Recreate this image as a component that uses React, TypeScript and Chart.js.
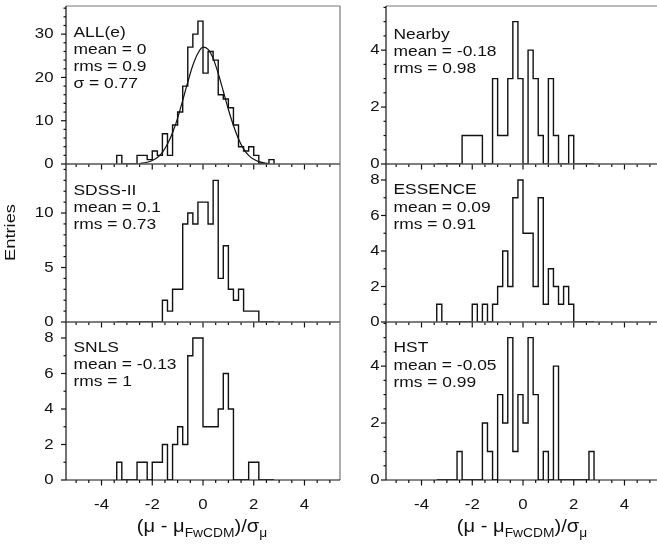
import React, { useEffect, useRef } from "react";
import { Chart, registerables } from "chart.js";

Chart.register(...registerables);

// ---------- data ----------
// Histogram bins of width 0.2, the first listed bin starts at -3.4 (last ends at 2.8)
const BIN_START = -3.4;
const BIN_WIDTH = 0.2;
const X_MIN = -5.4;
const X_MAX = 5.4;

const allCounts = [2, 0, 0, 0, 2, 2, 1, 3, 2, 7, 2, 9, 12, 18, 27, 30, 33, 21, 26, 24, 16, 15, 13, 9, 4, 3, 4, 2, 0, 0, 1];
const sdssCounts = [0, 0, 0, 0, 0, 0, 0, 0, 0, 2, 1, 3, 3, 9, 10, 9, 11, 11, 9, 13, 4, 7, 3, 2, 3, 1, 1, 1, 0, 0, 0];
const snlsCounts = [1, 0, 0, 0, 1, 1, 0, 1, 1, 2, 0, 2, 3, 2, 7, 8, 8, 3, 3, 3, 4, 6, 4, 0, 0, 0, 1, 1, 0, 0, 0];
const nearbyCounts = [0, 0, 0, 0, 0, 1, 1, 1, 1, 0, 0, 3, 1, 1, 3, 5, 3, 0, 4, 3, 1, 0, 3, 1, 0, 0, 1, 0, 0, 0, 0];
const essenceCounts = [1, 0, 0, 0, 0, 0, 0, 1, 0, 1, 0, 1, 2, 4, 2, 7, 8, 5, 5, 2, 7, 1, 3, 2, 1, 2, 1, 0, 0, 0, 0];
const hstCounts = [0, 0, 0, 0, 1, 0, 0, 0, 0, 2, 1, 0, 3, 2, 5, 1, 3, 2, 5, 3, 0, 1, 0, 4, 0, 0, 0, 0, 0, 0, 1];

// Gaussian fit curve on ALL(e)
const fitX = [-2.5, -2.2, -2.0, -1.8, -1.6, -1.4, -1.2, -1.0, -0.8, -0.6, -0.4, -0.2, 0, 0.2, 0.4, 0.6, 0.8, 1.0, 1.2, 1.4, 1.6, 1.8, 2.0, 2.2, 2.4, 2.6];
const fitY = [0.1, 0.4, 0.8, 1.5, 2.7, 4.6, 7.2, 10.6, 14.7, 18.9, 22.8, 25.6, 27.0, 26.5, 24.4, 20.9, 16.8, 12.6, 8.9, 5.8, 3.5, 2.0, 1.1, 0.55, 0.26, 0.1];

const xTickLabels = [-4, -2, 0, 2, 4];
const allYTicks = [0, 10, 20, 30];
const sdssYTicks = [0, 5, 10];
const snlsYTicks = [0, 2, 4, 6, 8];
const nearbyYTicks = [0, 2, 4];
const essenceYTicks = [0, 2, 4, 6, 8];
const hstYTicks = [0, 2, 4];

const allStats = ["ALL(e)", "mean = 0", "rms = 0.9", "σ = 0.77"];
const sdssStats = ["SDSS-II", "mean = 0.1", "rms = 0.73"];
const snlsStats = ["SNLS", "mean = -0.13", "rms = 1"];
const nearbyStats = ["Nearby", "mean = -0.18", "rms = 0.98"];
const essenceStats = ["ESSENCE", "mean = 0.09", "rms = 0.91"];
const hstStats = ["HST", "mean = -0.05", "rms = 0.99"];

const yAxisTitle = "Entries";

// ---------- layout / style ----------
const COLS = [
  { canvasLeft: 0, width: 345, axisLeft: 66, labelGap: 12.5, titleX: 201.5 },
  { canvasLeft: 345, width: 320, axisLeft: 41, labelGap: 6.5, titleX: 521.5 },
];
const ROWS = [
  { top: 6, bottom: 164 },
  { top: 164, bottom: 322 },
  { top: 322, bottom: 480 },
];
const PAD_TOP = 10;
const FONT = '"Liberation Sans", Arial, Helvetica, sans-serif';
const SX = 1.2;

type PanelCfg = {
  counts: number[];
  lines: string[];
  yTicks: number[];
  yMax: number;
  yMinor: number;
  col: number;
  row: number;
  fit?: boolean;
  yTitle?: boolean;
  textDy: number;
};

const PANELS: PanelCfg[] = [
  { counts: allCounts, lines: allStats, yTicks: allYTicks, yMax: 36.5, yMinor: 2, col: 0, row: 0, fit: true, textDy: 30.7 },
  { counts: sdssCounts, lines: sdssStats, yTicks: sdssYTicks, yMax: 14.5, yMinor: 1, col: 0, row: 1, textDy: 31, yTitle: true },
  { counts: snlsCounts, lines: snlsStats, yTicks: snlsYTicks, yMax: 8.9, yMinor: 1, col: 0, row: 2, textDy: 29.5 },
  { counts: nearbyCounts, lines: nearbyStats, yTicks: nearbyYTicks, yMax: 5.55, yMinor: 0.5, col: 1, row: 0, textDy: 33 },
  { counts: essenceCounts, lines: essenceStats, yTicks: essenceYTicks, yMax: 8.9, yMinor: 1, col: 1, row: 1, textDy: 30.3 },
  { counts: hstCounts, lines: hstStats, yTicks: hstYTicks, yMax: 5.55, yMinor: 0.5, col: 1, row: 2, textDy: 30.3 },
];

function histPoints(counts: number[]) {
  const pts = [{ x: BIN_START, y: 0 }];
  counts.forEach((c, i) => pts.push({ x: BIN_START + i * BIN_WIDTH, y: c }));
  pts.push({ x: BIN_START + counts.length * BIN_WIDTH, y: 0 });
  return pts;
}

function drawStretched(ctx: CanvasRenderingContext2D, text: string, x: number, y: number, align: CanvasTextAlign, rot = 0, sx = SX) {
  ctx.save();
  ctx.translate(x, y);
  if (rot) ctx.rotate(rot);
  ctx.scale(sx, 1);
  ctx.textAlign = align;
  ctx.fillText(text, 0, 0);
  ctx.restore();
}

function line(ctx: CanvasRenderingContext2D, x1: number, y1: number, x2: number, y2: number) {
  ctx.beginPath();
  ctx.moveTo(x1, y1);
  ctx.lineTo(x2, y2);
  ctx.stroke();
}

function makeFramePlugin(p: PanelCfg) {
  return {
    id: "frame",
    afterDraw(chart: any) {
      const { ctx, chartArea, scales } = chart;
      const { left, right, top, bottom } = chartArea;
      const xs = scales.x;
      const ys = scales.y;
      const col = COLS[p.col];
      ctx.save();
      // grey frame top/right
      ctx.strokeStyle = "#777";
      ctx.lineWidth = 1.2;
      line(ctx, left, top, right, top);
      line(ctx, right, top, right, bottom);
      // axes
      ctx.strokeStyle = "#111";
      ctx.lineWidth = 1.2;
      line(ctx, left, bottom, right, bottom);
      line(ctx, left, top, left, bottom);
      // x ticks (major every 2, minor every 0.5)
      for (let k = -10; k <= 10; k++) {
        const v = k * 0.5;
        const px = xs.getPixelForValue(v);
        const major = xTickLabels.includes(v);
        line(ctx, px, bottom, px, bottom + (major ? 5.5 : 3));
      }
      // y ticks
      const nMinor = Math.floor(p.yMax / p.yMinor + 1e-6);
      for (let k = 0; k <= nMinor; k++) {
        const v = k * p.yMinor;
        const py = ys.getPixelForValue(v);
        const major = p.yTicks.some((t) => Math.abs(t - v) < 1e-6);
        line(ctx, left - (major ? 5 : 2.5), py, left, py);
      }
      ctx.fillStyle = "#111";
      ctx.font = `14px ${FONT}`;
      ctx.textBaseline = "middle";
      p.yTicks.forEach((t) => {
        drawStretched(ctx, String(t), left - col.labelGap, ys.getPixelForValue(t) + 0.5, "right");
      });
      if (p.row === 2) {
        ctx.textBaseline = "alphabetic";
        xTickLabels.forEach((t) => {
          drawStretched(ctx, String(t), xs.getPixelForValue(t), bottom + 29, "center");
        });
      }
      // annotation
      ctx.font = `14.5px ${FONT}`;
      ctx.textBaseline = "alphabetic";
      p.lines.forEach((s, i) => {
        drawStretched(ctx, s, left + 7.5, top + p.textDy + i * 17.2, "left");
      });
      // y axis title (page coords 11, 232.5)
      if (p.yTitle) {
        const canvasTop = ROWS[p.row].top - PAD_TOP;
        ctx.font = `15px ${FONT}`;
        ctx.textBaseline = "middle";
        drawStretched(ctx, yAxisTitle, 11, 232.5 - canvasTop, "center", -Math.PI / 2, 1.22);
      }
      ctx.restore();
    },
  };
}

function Panel({ p }: { p: PanelCfg }) {
  const ref = useRef<HTMLCanvasElement>(null);
  const col = COLS[p.col];
  const row = ROWS[p.row];
  const bottomSpace = p.row === 2 ? 40 : 12;
  const h = PAD_TOP + (row.bottom - row.top) + bottomSpace;

  useEffect(() => {
    const datasets: any[] = [
      {
        data: histPoints(p.counts),
        stepped: true,
        borderColor: "#111",
        borderWidth: 1.4,
        pointRadius: 0,
        fill: false,
        tension: 0,
      },
    ];
    if (p.fit) {
      datasets.push({
        data: fitX.map((x, i) => ({ x, y: fitY[i] })),
        borderColor: "#111",
        borderWidth: 1.2,
        pointRadius: 0,
        fill: false,
        cubicInterpolationMode: "monotone",
      });
    }
    const chart = new Chart(ref.current as HTMLCanvasElement, {
      type: "line",
      data: { datasets },
      options: {
        responsive: false,
        animation: false,
        devicePixelRatio: 1,
        events: [],
        layout: { padding: { top: PAD_TOP, right: 5, left: 0, bottom: 0 } },
        plugins: { legend: { display: false }, tooltip: { enabled: false } },
        scales: {
          x: {
            type: "linear",
            min: X_MIN,
            max: X_MAX,
            ticks: { display: false },
            grid: { display: false, drawTicks: false },
            border: { display: false },
            afterFit: (s: any) => {
              s.height = bottomSpace;
            },
          },
          y: {
            type: "linear",
            min: 0,
            max: p.yMax,
            ticks: { display: false },
            grid: { display: false, drawTicks: false },
            border: { display: false },
            afterFit: (s: any) => {
              s.width = col.axisLeft;
            },
          },
        },
      } as any,
      plugins: [makeFramePlugin(p)],
    });
    return () => chart.destroy();
  }, []);

  return (
    <canvas
      ref={ref}
      width={col.width}
      height={h}
      style={{ position: "absolute", left: col.canvasLeft, top: row.top - PAD_TOP, width: col.width, height: h }}
    />
  );
}

function XTitle({ cx }: { cx: number }) {
  const sub = { fontSize: 12, position: "relative" as const, top: 5 };
  return (
    <div
      style={{
        position: "absolute",
        left: cx,
        top: 517.5,
        transform: "translateX(-50%) scaleX(1.15)",
        font: `17.5px ${FONT}`,
        lineHeight: "17.5px",
        whiteSpace: "nowrap",
        color: "#111",
      }}
    >
      (μ - μ<span style={sub}>FwCDM</span>)/σ<span style={sub}>μ</span>
    </div>
  );
}

export default function App() {
  return (
    <div
      style={{
        position: "absolute",
        left: 0,
        top: 0,
        width: 657,
        height: 544,
        overflow: "hidden",
        background: "#fff",
      }}
    >
      {PANELS.map((p, i) => (
        <Panel key={i} p={p} />
      ))}
      <XTitle cx={COLS[0].titleX} />
      <XTitle cx={COLS[1].titleX} />
    </div>
  );
}
